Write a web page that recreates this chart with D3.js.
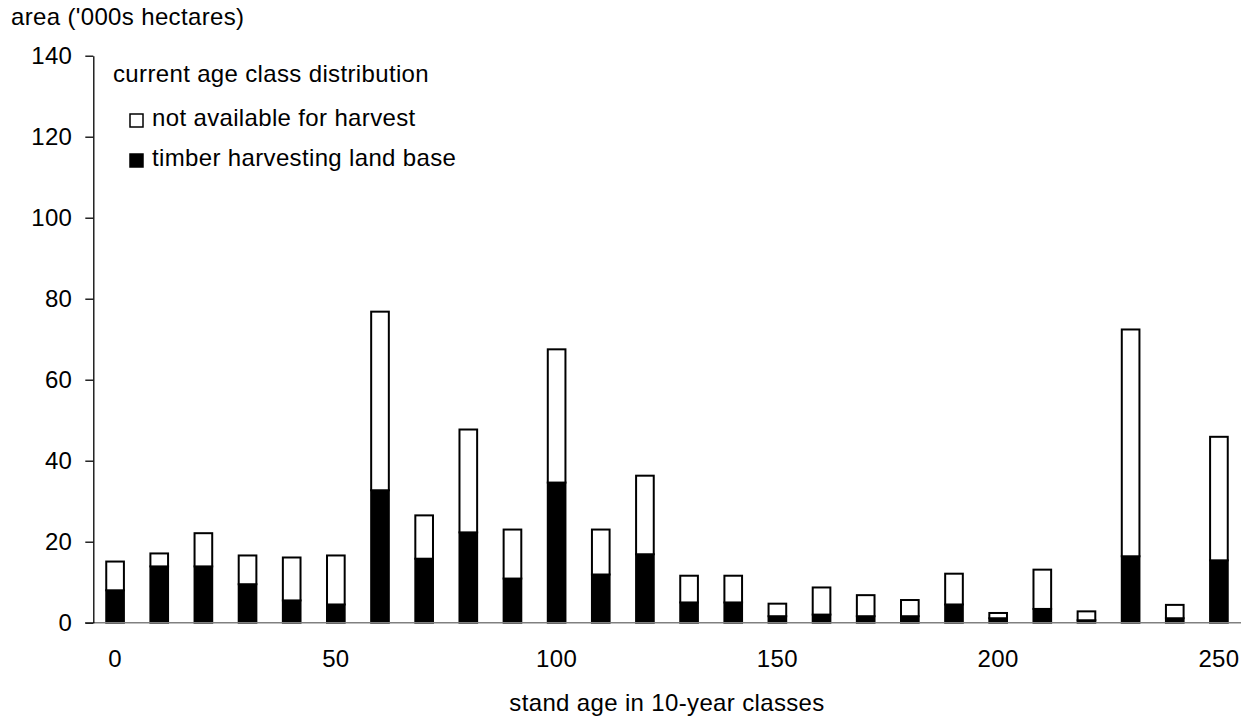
<!DOCTYPE html>
<html>
<head>
<meta charset="utf-8">
<script src="https://cdn.jsdelivr.net/npm/d3@7"></script>
<style>
  html, body { margin: 0; padding: 0; background: #fff; }
  svg { display: block; font-family: "Liberation Sans", Arial, sans-serif; }
  svg text { letter-spacing: 0.35px; }
</style>
</head>
<body>
<svg id="chart" width="1248" height="717"></svg>
<script>
// ---- data ----
const ageClasses = [0,10,20,30,40,50,60,70,80,90,100,110,120,130,140,150,160,170,180,190,200,210,220,230,240,250];
const timberHarvestingLandBase = [8.0,13.9,13.9,9.5,5.5,4.5,32.7,15.8,22.3,10.9,34.6,11.9,16.9,5.0,5.0,1.6,2.0,1.6,1.6,4.5,1.1,3.4,0.6,16.4,1.1,15.4];
const notAvailableForHarvest = [7.1,3.2,8.2,7.1,10.6,12.1,44.1,10.7,25.4,12.1,32.9,11.1,19.4,6.6,6.6,3.1,6.7,5.2,4.0,7.6,1.3,9.7,2.2,56.0,3.3,30.5];
const yTicks = [0,20,40,60,80,100,120,140];
const xTickLabels = [0,50,100,150,200,250];
const seriesNames = ["timber harvesting land base", "not available for harvest"];

const svg = d3.select("#chart");
const fontSize = 24;

const x = d3.scaleBand()
  .domain(ageClasses)
  .range([93, 1241])
  .paddingInner(0.6)
  .paddingOuter(0.3);

const y = d3.scaleLinear().domain([0, 140]).range([622.7, 55.7]);

const table = ageClasses.map((a, i) => ({
  age: a,
  thlb: timberHarvestingLandBase[i],
  nah: notAvailableForHarvest[i]
}));
const stacked = d3.stack().keys(["thlb", "nah"])(table);
const fills = { thlb: "#000", nah: "#fff" };

// bars
svg.append("g").selectAll("g")
  .data(stacked)
  .join("g")
  .attr("fill", d => fills[d.key])
  .attr("stroke", "#000")
  .attr("stroke-width", 2)
  .selectAll("rect")
  .data(d => d)
  .join("rect")
  .attr("x", d => x(d.data.age))
  .attr("width", x.bandwidth())
  .attr("y", d => y(d[1]))
  .attr("height", d => y(d[0]) - y(d[1]));

// x axis line (gray), extends slightly left of the y axis
svg.append("line")
  .attr("x1", x.range()[0] - 8).attr("x2", x.range()[1])
  .attr("y1", y(0)).attr("y2", y(0))
  .attr("stroke", "#808080").attr("stroke-width", 1.5);

// x axis labels
const xAxis = d3.axisBottom(x)
  .tickValues(xTickLabels)
  .tickSize(0)
  .tickPadding(27);
const gx = svg.append("g").attr("transform", `translate(0,${y(0)})`).call(xAxis);
gx.select(".domain").remove();
gx.selectAll("text").attr("font-size", fontSize).attr("font-family", "Liberation Sans, Arial, sans-serif").attr("fill", "#000");

// y axis
const yAxis = d3.axisLeft(y)
  .tickValues(yTicks)
  .tickSize(8)
  .tickSizeOuter(0)
  .tickPadding(13);
const gy = svg.append("g").attr("transform", `translate(93.3,0)`).call(yAxis);
gy.select(".domain").attr("stroke", "#000").attr("stroke-width", 1.3);
gy.selectAll(".tick line").attr("stroke", "#000").attr("stroke-width", 1.3);
gy.selectAll("text").attr("font-size", fontSize).attr("font-family", "Liberation Sans, Arial, sans-serif").attr("fill", "#000");

// axis titles
svg.append("text")
  .attr("x", 11).attr("y", 25)
  .attr("font-size", fontSize)
  .text("area ('000s hectares)");

svg.append("text")
  .attr("x", (x.range()[0] + x.range()[1]) / 2)
  .attr("y", 711)
  .attr("text-anchor", "middle")
  .attr("font-size", fontSize)
  .text("stand age in 10-year classes");

// legend
const lg = svg.append("g");
lg.append("text")
  .attr("x", 113).attr("y", 82)
  .attr("font-size", fontSize)
  .text("current age class distribution");

const legendItems = [
  { name: seriesNames[1], fill: "#fff", y: 126 },
  { name: seriesNames[0], fill: "#000", y: 166 }
];
legendItems.forEach(it => {
  lg.append("rect")
    .attr("x", 130).attr("y", it.y - 12)
    .attr("width", 13).attr("height", 13)
    .attr("fill", it.fill)
    .attr("stroke", "#000").attr("stroke-width", 1.5);
  lg.append("text")
    .attr("x", 152).attr("y", it.y)
    .attr("font-size", fontSize)
    .text(it.name);
});
</script>
</body>
</html>
